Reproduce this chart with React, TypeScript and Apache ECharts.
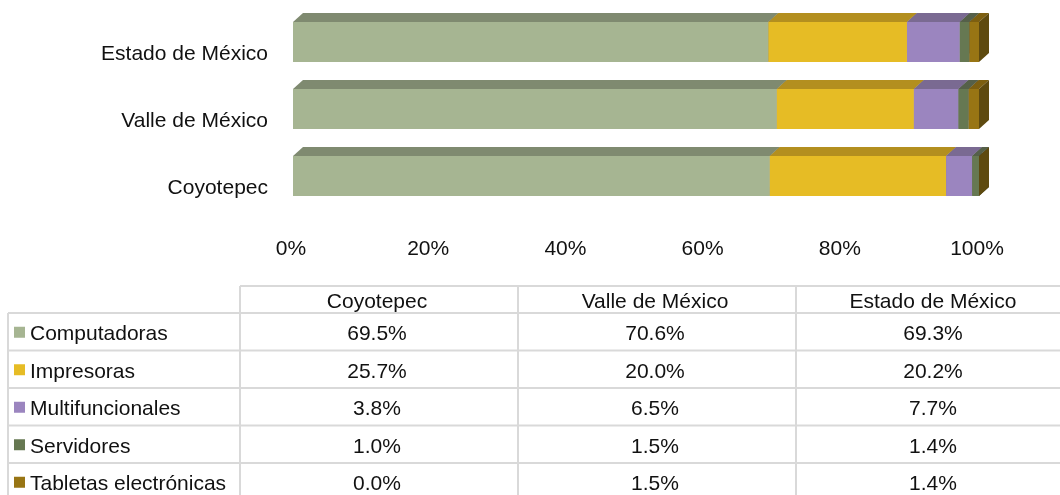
import React, { useEffect, useRef } from "react";
import * as echarts from "echarts";

const regions = ["Coyotepec", "Valle de México", "Estado de México"];
const seriesNames = ["Computadoras", "Impresoras", "Multifuncionales", "Servidores", "Tabletas electrónicas"];
const computadoras = [69.5, 70.6, 69.3];
const impresoras = [25.7, 20.0, 20.2];
const multifuncionales = [3.8, 6.5, 7.7];
const servidores = [1.0, 1.5, 1.4];
const tabletas = [0.0, 1.5, 1.4];
const xTicks = [0, 20, 40, 60, 80, 100];

const seriesValues = [computadoras, impresoras, multifuncionales, servidores, tabletas];
const frontColors = ["#A6B592", "#E6BC25", "#9B85BF", "#667852", "#987514"];
const topColors = ["#7F8A70", "#B38F1F", "#7A6A92", "#556049", "#7D5F10"];
const sideColors = ["#6A745C", "#957719", "#65597A", "#475040", "#5E4A0F"];

const FONT = "'Liberation Sans', Arial, sans-serif";

export default function App() {
  const ref = useRef<HTMLDivElement>(null);
  useEffect(() => {
    if (!ref.current) return;
    const chart = echarts.init(ref.current, null, { renderer: "svg" });

    const totals = regions.map((_, i) => seriesValues.reduce((s, arr) => s + arr[i], 0));
    const cum = regions.map(() => 0);
    const DX = 10, DY = 9, H = 40, YSHIFT = -10, XSHIFT = 2;

    const series = seriesValues.map((arr, si) => {
      const data = regions.map((_, ci) => {
        const share = (arr[ci] / totals[ci]) * 100;
        const start = cum[ci];
        cum[ci] += share;
        return [ci, start, start + share];
      });
      return {
        type: "custom",
        name: seriesNames[si],
        encode: { x: [1, 2], y: 0 },
        data,
        renderItem: (params: any, api: any) => {
          const ci = api.value(0);
          const p0 = api.coord([api.value(1), ci]);
          const p1 = api.coord([api.value(2), ci]);
          const x0 = p0[0] + XSHIFT;
          const x1 = p1[0] + XSHIFT;
          const yc = p0[1] + YSHIFT;
          const yt = yc - H / 2;
          const yb = yc + H / 2;
          return {
            type: "group",
            children: [
              { type: "rect", shape: { x: x0, y: yt, width: Math.max(0, x1 - x0), height: H }, style: { fill: frontColors[si] } },
              { type: "polygon", shape: { points: [[x0, yt], [x0 + DX, yt - DY], [x1 + DX, yt - DY], [x1, yt]] }, style: { fill: topColors[si] } },
              { type: "polygon", shape: { points: [[x1, yt], [x1 + DX, yt - DY], [x1 + DX, yb - DY], [x1, yb]] }, style: { fill: sideColors[si] } },
            ],
          };
        },
      };
    });

    // table
    const colEdges = [240, 518, 796, 1074];
    const headerTop = 286;
    const bodyTop = 313;
    const rowH = 37.5;
    const nRows = seriesNames.length;
    const lineStyle = { stroke: "#D9D9D9", lineWidth: 2 };
    const graphics: any[] = [];
    graphics.push({ type: "line", shape: { x1: colEdges[0], y1: headerTop, x2: 1060, y2: headerTop }, style: lineStyle });
    for (let r = 0; r <= nRows; r++) {
      const y = bodyTop + r * rowH;
      graphics.push({ type: "line", shape: { x1: 8, y1: y, x2: 1060, y2: y }, style: lineStyle });
    }
    graphics.push({ type: "line", shape: { x1: 8, y1: bodyTop, x2: 8, y2: 495 }, style: lineStyle });
    for (let c = 0; c < 3; c++) {
      graphics.push({ type: "line", shape: { x1: colEdges[c], y1: headerTop, x2: colEdges[c], y2: 495 }, style: lineStyle });
    }
    regions.forEach((name, c) => {
      graphics.push({
        type: "text",
        x: (colEdges[c] + colEdges[c + 1]) / 2 - 2,
        y: (headerTop + bodyTop) / 2 + 1,
        style: { text: name, fill: "#111", fontSize: 21, fontFamily: FONT, textAlign: "center", textVerticalAlign: "middle" },
      });
    });
    seriesNames.forEach((name, r) => {
      const yc = bodyTop + r * rowH + rowH / 2 + 1;
      graphics.push({ type: "rect", shape: { x: 14, y: yc - 6, width: 11, height: 11 }, style: { fill: frontColors[r] } });
      graphics.push({
        type: "text",
        x: 30,
        y: yc,
        style: { text: name, fill: "#111", fontSize: 21, fontFamily: FONT, textAlign: "left", textVerticalAlign: "middle" },
      });
      regions.forEach((_, c) => {
        graphics.push({
          type: "text",
          x: (colEdges[c] + colEdges[c + 1]) / 2 - 2,
          y: yc,
          style: { text: seriesValues[r][c].toFixed(1) + "%", fill: "#111", fontSize: 21, fontFamily: FONT, textAlign: "center", textVerticalAlign: "middle" },
        });
      });
    });

    chart.setOption({
      animation: false,
      grid: { left: 291, right: 83, top: 18.5, height: 201 },
      xAxis: {
        type: "value",
        min: xTicks[0],
        max: xTicks[xTicks.length - 1],
        interval: xTicks[1] - xTicks[0],
        axisLine: { show: false },
        axisTick: { show: false },
        splitLine: { show: false },
        axisLabel: { formatter: "{value}%", color: "#111", fontSize: 21, fontFamily: FONT, margin: 17 },
      },
      yAxis: {
        type: "category",
        data: regions,
        axisLine: { show: false },
        axisTick: { show: false },
        axisLabel: { color: "#111", fontSize: 21, fontFamily: FONT, margin: 23 },
      },
      series,
      graphic: graphics,
    });
    return () => chart.dispose();
  }, []);
  return <div ref={ref} style={{ position: "fixed", left: 0, top: 0, width: 1060, height: 495 }} />;
}
